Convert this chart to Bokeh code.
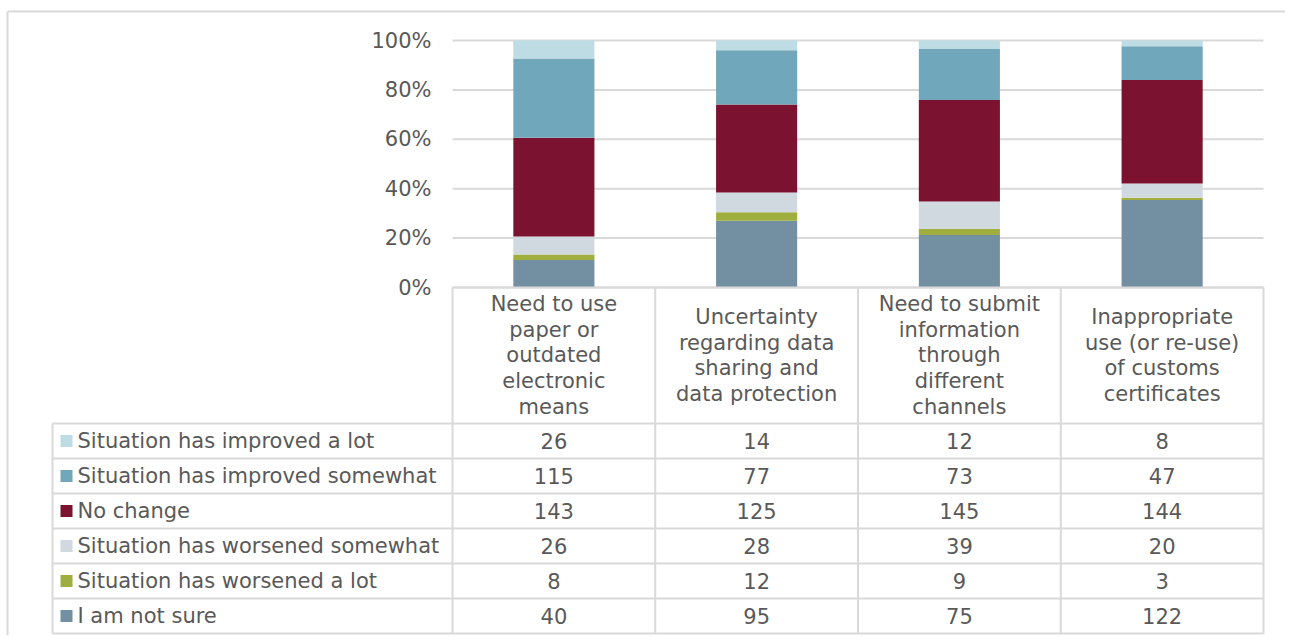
from bokeh.plotting import figure
from bokeh.models import ColumnDataSource, Range1d, LinearAxis, FixedTicker, NumeralTickFormatter
from bokeh.core.properties import value
from bokeh.embed import file_html
from bokeh.resources import INLINE

# ---------------- data ----------------
categories = [
    "Need to use\npaper or\noutdated\nelectronic\nmeans",
    "Uncertainty\nregarding data\nsharing and\ndata protection",
    "Need to submit\ninformation\nthrough\ndifferent\nchannels",
    "Inappropriate\nuse (or re-use)\nof customs\ncertificates",
]
series_names = [
    "Situation has improved a lot",
    "Situation has improved somewhat",
    "No change",
    "Situation has worsened somewhat",
    "Situation has worsened a lot",
    "I am not sure",
]
improved_a_lot = [26, 14, 12, 8]
improved_somewhat = [115, 77, 73, 47]
no_change = [143, 125, 145, 144]
worsened_somewhat = [26, 28, 39, 20]
worsened_a_lot = [8, 12, 9, 3]
not_sure = [40, 95, 75, 122]
y_ticks = [0, 0.2, 0.4, 0.6, 0.8, 1.0]

series_values = [improved_a_lot, improved_somewhat, no_change,
                 worsened_somewhat, worsened_a_lot, not_sure]
series_colors = ["#BDDCE4", "#71A7BA", "#7B1230", "#D0D9E0", "#9FAE3E", "#7290A2"]

# ---------------- layout (page pixels) ----------------
W, H = 1285, 635
ORG = 0
PLOT_L, PLOT_R = 452, 1263
PLOT_T, PLOT_B = 40, 287
TABLE_L = 52
HEADER_B = 423
ROW_H = 35
FONT = "DejaVu Sans"
FS = "21px"
TXT = "#595959"
LINE = "#D9D9D9"

n = len(categories)
sx = (PLOT_R - PLOT_L) / n
sy = (PLOT_B - PLOT_T) / 1.0
x_range = Range1d(-0.5 - (PLOT_L - ORG) / sx, n - 0.5 + (ORG + W - PLOT_R) / sx)
y_range = Range1d(-(ORG + H - PLOT_B) / sy, 1.0 + (PLOT_T - ORG) / sy)

p = figure(width=W, height=H, x_range=x_range, y_range=y_range,
           extra_x_ranges={"px": Range1d(ORG, ORG + W)},
           extra_y_ranges={"px": Range1d(ORG + H, ORG)},
           output_backend="svg", toolbar_location=None,
           x_axis_location=None, y_axis_location=None,
           min_border=0, outline_line_color=None,
           background_fill_color="white", border_fill_color="white")
p.xgrid.visible = False
p.ygrid.visible = False
p.grid.grid_line_color = None

# outer chart border (top and left visible)
p.segment(x0=[7, 7], y0=[11, 11], x1=[ORG + W, 7], y1=[11, ORG + H],
          x_range_name="px", y_range_name="px", line_color=LINE, line_width=2)

# gridlines
p.segment(x0=[-0.5] * len(y_ticks), x1=[n - 0.5] * len(y_ticks), y0=y_ticks, y1=y_ticks,
          line_color=LINE, line_width=2)

# y axis
yax = LinearAxis(fixed_location=-0.5, ticker=FixedTicker(ticks=y_ticks),
                 formatter=NumeralTickFormatter(format="0%"), bounds=(0, 1))
yax.axis_line_color = None
yax.major_tick_line_color = None
yax.minor_tick_line_color = None
yax.major_tick_out = 0
yax.major_tick_in = 0
yax.major_label_standoff = 21
yax.major_label_text_font = FONT
yax.major_label_text_font_size = FS
yax.major_label_text_color = TXT
p.add_layout(yax, "left")

# stacked 100% bars (bottom series first)
totals = [sum(v[i] for v in series_values) for i in range(n)]
data = {"x": list(range(n))}
keys = []
for k, vals in enumerate(series_values):
    key = f"s{k}"
    keys.append(key)
    data[key] = [vals[i] / totals[i] for i in range(n)]
src = ColumnDataSource(data)
stack_keys = keys[::-1]
stack_colors = series_colors[::-1]
p.vbar_stack(stack_keys, x="x", width=0.4, source=src,
             fill_color=stack_colors, line_color=None)

# ---------------- data table ----------------
row_count = len(series_names)
table_bottom = HEADER_B + ROW_H * row_count

# horizontal lines
hy = [HEADER_B + ROW_H * k for k in range(row_count + 1)]
p.segment(x0=[TABLE_L] * len(hy), x1=[PLOT_R] * len(hy), y0=hy, y1=hy,
          x_range_name="px", y_range_name="px", line_color=LINE, line_width=2)
p.segment(x0=[PLOT_L], x1=[PLOT_R], y0=[PLOT_B], y1=[PLOT_B],
          x_range_name="px", y_range_name="px", line_color=LINE, line_width=2)
# vertical lines
p.segment(x0=[TABLE_L], x1=[TABLE_L], y0=[HEADER_B], y1=[table_bottom],
          x_range_name="px", y_range_name="px", line_color=LINE, line_width=2)
vx = [k - 0.5 for k in range(n + 1)]
p.segment(x0=vx, x1=vx, y0=[PLOT_B] * len(vx), y1=[table_bottom] * len(vx),
          y_range_name="px", line_color=LINE, line_width=2)

# category header labels
p.text(x=list(range(n)), y=[(PLOT_B + HEADER_B) / 2] * n, text=categories,
       y_range_name="px", text_font=value(FONT), text_font_size=FS,
       text_color=TXT, text_align="center", text_baseline="middle",
       text_line_height=1.07)

# legend keys and names
row_y = [HEADER_B + ROW_H * (k + 0.5) for k in range(row_count)]
p.scatter(x=[66] * row_count, y=row_y, marker="square", size=12,
          fill_color=series_colors, line_color=None,
          x_range_name="px", y_range_name="px")
p.text(x=[77] * row_count, y=row_y, text=series_names,
       x_range_name="px", y_range_name="px", text_font=value(FONT),
       text_font_size=FS, text_color=TXT, text_align="left", text_baseline="middle")

# values
vx_list, vy_list, vt_list = [], [], []
for k, vals in enumerate(series_values):
    for i in range(n):
        vx_list.append(i)
        vy_list.append(row_y[k])
        vt_list.append(str(vals[i]))
p.text(x=vx_list, y=vy_list, text=vt_list, y_range_name="px",
       text_font=value(FONT), text_font_size=FS, text_color=TXT,
       text_align="center", text_baseline="middle")

open("out.html", "w").write(file_html(p, INLINE))
